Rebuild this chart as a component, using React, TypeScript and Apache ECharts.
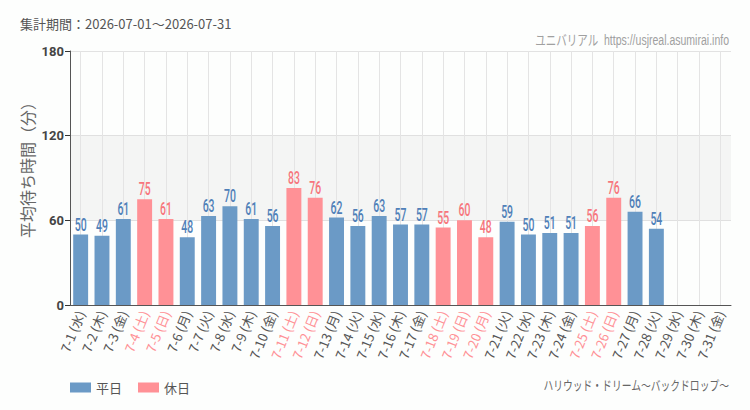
import React, { useEffect, useRef } from "react";
import * as echarts from "echarts";

const days = ["7-1", "7-2", "7-3", "7-4", "7-5", "7-6", "7-7", "7-8", "7-9", "7-10", "7-11", "7-12", "7-13", "7-14", "7-15", "7-16", "7-17", "7-18", "7-19", "7-20", "7-21", "7-22", "7-23", "7-24", "7-25", "7-26", "7-27", "7-28", "7-29", "7-30", "7-31"];
const weekdays = ["水", "木", "金", "土", "日", "月", "火", "水", "木", "金", "土", "日", "月", "火", "水", "木", "金", "土", "日", "月", "火", "水", "木", "金", "土", "日", "月", "火", "水", "木", "金"];
const holidayFlags = [0, 0, 0, 1, 1, 0, 0, 0, 0, 0, 1, 1, 0, 0, 0, 0, 0, 1, 1, 1, 0, 0, 0, 0, 1, 1, 0, 0, 0, 0, 0];
const waitMinutes: (number | null)[] = [50, 49, 61, 75, 61, 48, 63, 70, 61, 56, 83, 76, 62, 56, 63, 57, 57, 55, 60, 48, 59, 50, 51, 51, 56, 76, 66, 54, null, null, null];

const periodText = "集計期間：2026-07-01～2026-07-31";
const siteText = "ユニバリアル  https://usjreal.asumirai.info";
const attractionText = "ハリウッド・ドリーム～バックドロップ～";
const yAxisTitle = "平均待ち時間（分）";

const BLUE = "#6b9ac6";
const PINK = "#ff9196";
const BLUE_TEXT = "#4f80b8";
const PINK_TEXT = "#f7767c";
const CJK = "'Noto Sans CJK JP', 'Noto Sans', sans-serif";
const NARROW_FONT = "'Liberation Sans', 'Noto Sans CJK JP', sans-serif";
const LABEL_FONT = "500 18px Roboto, 'Liberation Sans', sans-serif";

// horizontal squeeze so a text run fits a given width (emulates a condensed face)
function squeeze(text: string, font: string, width: number): number {
  const ctx = document.createElement("canvas").getContext("2d");
  if (!ctx) return 0.75;
  ctx.font = font;
  const w = ctx.measureText(text).width;
  return w > 0 ? Math.min(1, width / w) : 1;
}

export default function App() {
  const ref = useRef<HTMLDivElement>(null);

  useEffect(() => {
    if (!ref.current) return;
    const chart = echarts.init(ref.current, null, { renderer: "svg" });
    const categories = days.map((d, i) => `${d} (${weekdays[i]})`);
    const weekdayData = waitMinutes.map((v, i) => (holidayFlags[i] ? null : v));
    const holidayData = waitMinutes.map((v, i) => (holidayFlags[i] ? v : null));
    const labelData = waitMinutes
      .map((v, i) => (v == null ? null : [i, v, holidayFlags[i]]))
      .filter((d) => d !== null) as number[][];

    const siteFont = `14px ${NARROW_FONT}`;
    const attractionFont = `13px ${NARROW_FONT}`;

    chart.setOption({
      animation: false,
      backgroundColor: "#fdfefd",
      title: {
        text: periodText,
        left: 15,
        top: 12,
        textStyle: { fontSize: 13, fontWeight: "normal", color: "#555", fontFamily: CJK },
      },
      graphic: [
        {
          type: "text",
          x: 729,
          y: 40,
          scaleX: squeeze(siteText, siteFont, 194),
          silent: true,
          style: {
            text: siteText,
            font: siteFont,
            fill: "#a0a0a0",
            align: "right",
            verticalAlign: "middle",
          },
        },
        {
          type: "text",
          x: 729,
          y: 385,
          scaleX: squeeze(attractionText, attractionFont, 186),
          silent: true,
          style: {
            text: attractionText,
            font: attractionFont,
            fill: "#666",
            align: "right",
            verticalAlign: "middle",
          },
        },
        {
          type: "text",
          x: 27,
          y: 166,
          rotation: Math.PI / 2,
          silent: true,
          style: {
            text: yAxisTitle,
            font: `16px ${CJK}`,
            fill: "#666",
            align: "center",
            verticalAlign: "middle",
          },
        },
      ],
      legend: {
        left: 65,
        top: 376,
        itemWidth: 21,
        itemHeight: 10,
        itemGap: 16,
        icon: "rect",
        textStyle: { fontSize: 13, color: "#555", fontFamily: CJK },
        data: ["平日", "休日"],
      },
      grid: { left: 70, right: 19, top: 51, bottom: 105 },
      xAxis: {
        type: "category",
        data: categories,
        axisLine: { lineStyle: { color: "#555", width: 1 } },
        axisTick: { alignWithLabel: true, lineStyle: { color: "#333" }, length: 4 },
        splitLine: { show: false },
        axisLabel: {
          interval: 0,
          rotate: 68,
          fontSize: 13,
          margin: 6,
          fontFamily: CJK,
          color: (_v: string, i: number) => (holidayFlags[i] ? PINK : "#555"),
        },
      },
      yAxis: {
        type: "value",
        min: 0,
        max: 180,
        interval: 60,
        axisLine: { show: true, lineStyle: { color: "#555" } },
        axisTick: { show: true, length: 5, lineStyle: { color: "#333" } },
        axisLabel: {
          fontSize: 13,
          color: "#444",
          fontWeight: "bold",
          fontFamily: "Roboto, 'Liberation Sans', sans-serif",
          margin: 6,
        },
        splitLine: { show: true, lineStyle: { color: "#e2e2e2" } },
      },
      series: [
        {
          // vertical grid lines through each day's centre and the 60–120 band, behind the bars
          name: "grid",
          type: "line",
          data: [],
          z: 0,
          silent: true,
          markLine: {
            z: 1,
            silent: true,
            symbol: "none",
            label: { show: false },
            lineStyle: { color: "#e4e4e4", type: "solid", width: 1 },
            data: categories.map((c) => ({ xAxis: c })),
          },
          markArea: {
            z: 0,
            silent: true,
            itemStyle: { color: "rgba(0,0,0,0.035)" },
            data: [[{ yAxis: 60 }, { yAxis: 120 }]],
          },
        },
        {
          name: "平日",
          type: "bar",
          stack: "wait",
          barWidth: "70%",
          data: weekdayData,
          itemStyle: { color: BLUE },
        },
        {
          name: "休日",
          type: "bar",
          stack: "wait",
          barWidth: "70%",
          data: holidayData,
          itemStyle: { color: PINK },
        },
        {
          // condensed value labels above each bar
          name: "values",
          type: "custom",
          z: 5,
          silent: true,
          data: labelData,
          encode: { x: 0, y: 1 },
          renderItem: (_params: any, api: any) => {
            const val = api.value(1);
            const holiday = api.value(2);
            const p = api.coord([api.value(0), val]);
            return {
              type: "text",
              x: p[0],
              y: p[1] - 1,
              scaleX: 0.58,
              style: {
                text: String(val),
                font: LABEL_FONT,
                fill: holiday ? PINK_TEXT : BLUE_TEXT,
                align: "center",
                verticalAlign: "bottom",
              },
            };
          },
        },
      ],
    });

    return () => chart.dispose();
  }, []);

  return <div ref={ref} style={{ width: 750, height: 410, position: "absolute", left: 0, top: 0 }} />;
}
